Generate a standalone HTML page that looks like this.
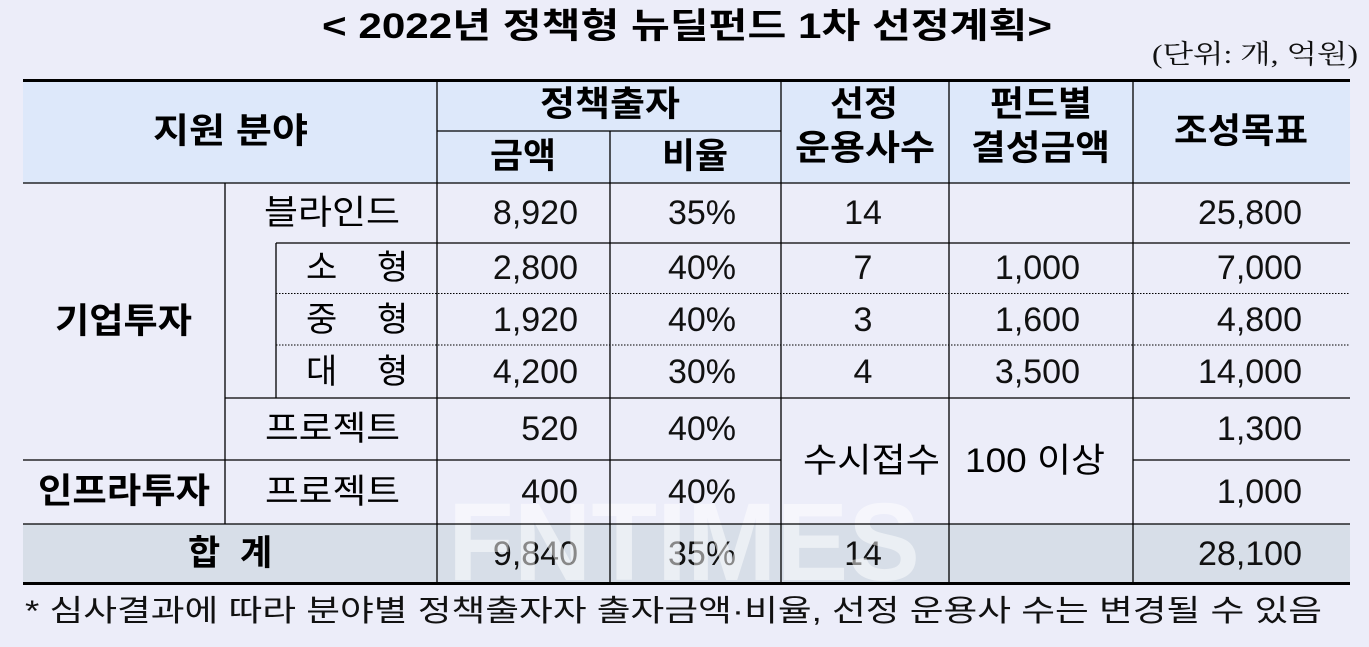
<!DOCTYPE html>
<html>
<head>
<meta charset="utf-8">
<style>
html,body{margin:0;padding:0;background:#ecedf9;}
svg{display:block;}
.s{font-family:"Liberation Sans","Noto Sans CJK KR",sans-serif;fill:#000;}
.b{font-weight:bold;}
.n{font-family:"Liberation Sans","Noto Sans CJK KR",sans-serif;font-size:34px;fill:#111;}
</style>
</head>
<body>
<svg width="1369" height="647" viewBox="0 0 1369 647" xmlns="http://www.w3.org/2000/svg">
<rect x="0" y="0" width="1369" height="647" fill="#ecedf9"/>
<!-- backgrounds -->
<rect x="23" y="81" width="1327" height="102" fill="#dde8fa"/>
<rect x="23" y="524" width="1327" height="59" fill="#d7dee8"/>

<!-- title -->
<text class="s b" x="322" y="38" font-size="35" textLength="730" lengthAdjust="spacingAndGlyphs">&lt; 2022년 정책형 뉴딜펀드 1차 선정계획&gt;</text>
<text x="1152" y="63" font-size="26" textLength="206" lengthAdjust="spacingAndGlyphs" style="font-family:'Liberation Serif','Noto Serif CJK SC',serif;fill:#111;">(단위: 개, 억원)</text>

<!-- header -->
<text class="s b" x="153" y="143" font-size="35" textLength="155" lengthAdjust="spacingAndGlyphs">지원 분야</text>
<text class="s b" x="540" y="116" font-size="35" textLength="140" lengthAdjust="spacingAndGlyphs">정책출자</text>
<text class="s b" x="490" y="168" font-size="35" textLength="66" lengthAdjust="spacingAndGlyphs">금액</text>
<text class="s b" x="662" y="168" font-size="35" textLength="66" lengthAdjust="spacingAndGlyphs">비율</text>
<text class="s b" x="830" y="116" font-size="35" textLength="68" lengthAdjust="spacingAndGlyphs">선정</text>
<text class="s b" x="795" y="160" font-size="35" textLength="140" lengthAdjust="spacingAndGlyphs">운용사수</text>
<text class="s b" x="990" y="116" font-size="35" textLength="102" lengthAdjust="spacingAndGlyphs">펀드별</text>
<text class="s b" x="971" y="160" font-size="35" textLength="139" lengthAdjust="spacingAndGlyphs">결성금액</text>
<text class="s b" x="1174" y="143" font-size="35" textLength="134" lengthAdjust="spacingAndGlyphs">조성목표</text>

<!-- left labels -->
<text class="s b" x="55" y="333" font-size="35" textLength="137" lengthAdjust="spacingAndGlyphs">기업투자</text>
<text class="s b" x="38" y="503" font-size="35" textLength="172" lengthAdjust="spacingAndGlyphs">인프라투자</text>
<text class="s b" x="188" y="565" font-size="35">합</text>
<text class="s b" x="240" y="565" font-size="35">계</text>

<text class="s" x="264" y="224" font-size="34" textLength="136" lengthAdjust="spacingAndGlyphs">블라인드</text>
<text class="s" x="306" y="279" font-size="34">소</text><text class="s" x="377" y="279" font-size="34">형</text>
<text class="s" x="306" y="331" font-size="34">중</text><text class="s" x="377" y="331" font-size="34">형</text>
<text class="s" x="306" y="383" font-size="34">대</text><text class="s" x="377" y="383" font-size="34">형</text>
<text class="s" x="265" y="440" font-size="34" textLength="135" lengthAdjust="spacingAndGlyphs">프로젝트</text>
<text class="s" x="265" y="503" font-size="34" textLength="135" lengthAdjust="spacingAndGlyphs">프로젝트</text>

<!-- 금액 -->
<g class="n" text-anchor="end">
<text x="578" y="224">8,920</text>
<text x="578" y="279">2,800</text>
<text x="578" y="331">1,920</text>
<text x="578" y="383">4,200</text>
<text x="578" y="440">520</text>
<text x="578" y="503">400</text>
<text x="578" y="565">9,840</text>
<!-- 비율 -->
<text x="736" y="224">35%</text>
<text x="736" y="279">40%</text>
<text x="736" y="331">40%</text>
<text x="736" y="383">30%</text>
<text x="736" y="440">40%</text>
<text x="736" y="503">40%</text>
<text x="736" y="565">35%</text>
<!-- 결성 -->
<text x="1080" y="279">1,000</text>
<text x="1080" y="331">1,600</text>
<text x="1080" y="383">3,500</text>
<!-- 조성목표 -->
<text x="1302" y="224">25,800</text>
<text x="1302" y="279">7,000</text>
<text x="1302" y="331">4,800</text>
<text x="1302" y="383">14,000</text>
<text x="1302" y="440">1,300</text>
<text x="1302" y="503">1,000</text>
<text x="1302" y="565">28,100</text>
</g>
<g class="n" text-anchor="middle">
<text x="863" y="224">14</text>
<text x="863" y="279">7</text>
<text x="863" y="331">3</text>
<text x="863" y="383">4</text>
<text x="863" y="565">14</text>
</g>
<text class="s" x="803" y="472" font-size="34" textLength="137" lengthAdjust="spacingAndGlyphs">수시접수</text>
<text class="s" x="965" y="472" font-size="34" textLength="140" lengthAdjust="spacingAndGlyphs">100 이상</text>

<!-- watermark -->
<text x="448" y="580" font-size="110" font-weight="bold" textLength="472" lengthAdjust="spacingAndGlyphs" style="font-family:'Liberation Sans',sans-serif;fill:#ffffff;fill-opacity:0.5;">FNTIMES</text>

<!-- lines -->
<g stroke="#000" stroke-width="1.3" fill="none">
<line x1="23" y1="183" x2="1350" y2="183"/>
<line x1="437" y1="131" x2="781" y2="131"/>
<line x1="437" y1="80" x2="437" y2="583"/>
<line x1="610" y1="131" x2="610" y2="583"/>
<line x1="781" y1="80" x2="781" y2="583"/>
<line x1="949" y1="80" x2="949" y2="583"/>
<line x1="1133" y1="80" x2="1133" y2="583"/>
<line x1="225" y1="183" x2="225" y2="524"/>
<line x1="276" y1="243" x2="276" y2="398"/>
<line x1="276" y1="243" x2="1350" y2="243"/>
<line x1="225" y1="398" x2="1350" y2="398"/>
<line x1="23" y1="460" x2="781" y2="460"/>
<line x1="1133" y1="460" x2="1350" y2="460"/>
<line x1="23" y1="524" x2="1350" y2="524"/>
</g>
<g stroke="#000" stroke-width="1" stroke-dasharray="1.5,1.5" fill="none">
<line x1="276" y1="293.5" x2="1350" y2="293.5"/>
<line x1="276" y1="345" x2="1350" y2="345"/>
</g>
<line x1="23" y1="80.5" x2="1350" y2="80.5" stroke="#000" stroke-width="3"/>
<line x1="23" y1="583.5" x2="1350" y2="583.5" stroke="#000" stroke-width="3"/>

<!-- footnote -->
<text class="s" x="25" y="621" font-size="30" textLength="1297" lengthAdjust="spacingAndGlyphs" style="fill:#111;">* 심사결과에 따라 분야별 정책출자자 출자금액·비율, 선정 운용사 수는 변경될 수 있음</text>
</svg>
</body>
</html>
